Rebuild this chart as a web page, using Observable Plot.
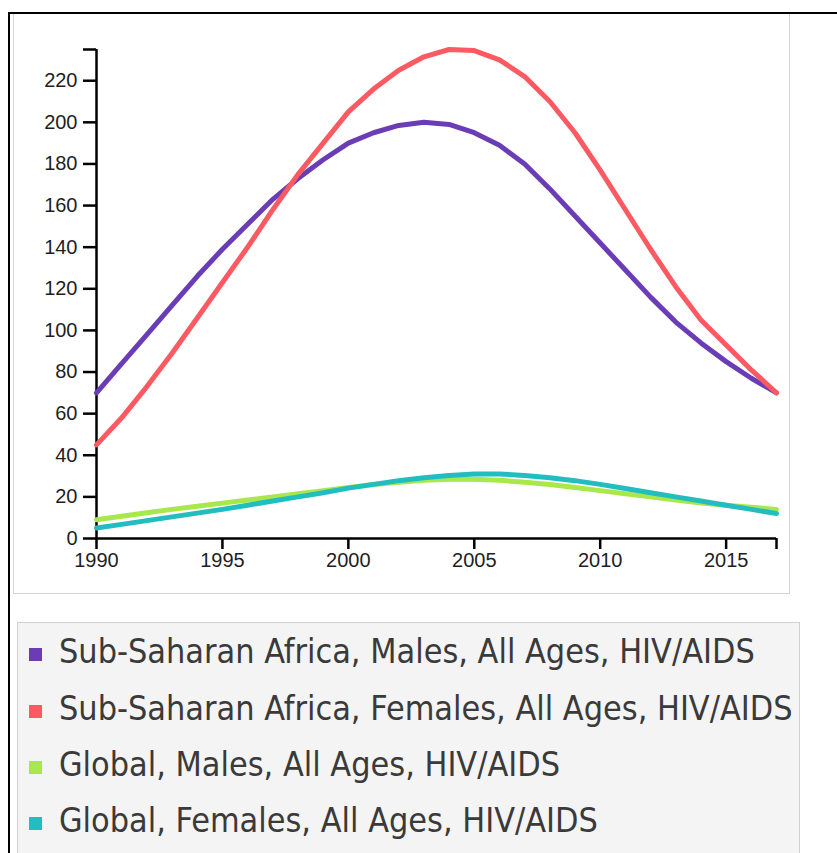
<!DOCTYPE html>
<html>
<head>
<meta charset="utf-8">
<script src="https://cdn.jsdelivr.net/npm/d3@7"></script>
<script src="https://cdn.jsdelivr.net/npm/@observablehq/plot@0.6"></script>
<style>
  html, body { margin: 0; padding: 0; background: #fff; overflow: hidden; }
  #frame { position: absolute; left: 8px; top: 12px; width: 900px; height: 900px; border: 2px solid #000; box-sizing: border-box; }
  #panel { position: absolute; left: 13px; top: 14px; width: 777px; height: 580px; border: 1px solid #d3d3d3; border-top: none; box-sizing: border-box; background: #fff; }
  #chart { position: absolute; left: 13px; top: 14px; }
  #legend { position: absolute; left: 17px; top: 622px; width: 783px; height: 300px; border: 1px solid #cfcfcf; background: #f4f4f4; box-sizing: border-box; }
  .sw { position: absolute; left: 11px; width: 13px; height: 13px; }
  .lab { position: absolute; left: 41px; white-space: nowrap; color: #3a3a3a; font-family: "DejaVu Sans Condensed", "DejaVu Sans", sans-serif; }
  #chart svg g[aria-label="x-axis tick"] path, #chart svg g[aria-label="y-axis tick"] path { stroke-width: 2.5px; }
  #chart svg text { font-size: 20px !important; }
</style>
</head>
<body>
<div id="frame"></div>
<div id="panel"></div>
<div id="chart"></div>
<div id="legend"></div>
<script>
const years = d3.range(1990, 2018);
const seriesNames = [
  "Sub-Saharan Africa, Males, All Ages, HIV/AIDS",
  "Sub-Saharan Africa, Females, All Ages, HIV/AIDS",
  "Global, Males, All Ages, HIV/AIDS",
  "Global, Females, All Ages, HIV/AIDS"
];
const seriesColors = ["#6a3db6", "#fb5a62", "#a8e84c", "#22bebf"];
const ssaMales = [70, 84, 98, 112, 126, 139, 151, 163, 173, 182, 190, 195, 198.5, 200, 199, 195, 189, 180, 168, 155, 142, 129, 116, 104, 94, 85, 77, 70];
const ssaFemales = [45, 58, 73, 89, 106, 123, 140, 158, 175, 190, 205, 216, 225, 231.5, 235, 234.5, 230, 222, 210, 195, 177, 158, 139, 121, 105, 93, 81, 70];
const globalMales = [9, 10.7, 12.4, 14, 15.5, 17, 18.5, 20, 21.5, 23, 24.5, 26, 27, 28, 28.5, 28.5, 28, 27, 26, 24.5, 23, 21.5, 20, 18.5, 17, 16, 15, 14];
const globalFemales = [5, 6.8, 8.6, 10.4, 12.2, 14, 16, 18, 20, 22, 24.2, 26, 27.8, 29.2, 30.3, 31, 31, 30.3, 29.2, 27.8, 26, 24, 22, 20, 18, 16, 14, 12];
const xTicks = [1990, 1995, 2000, 2005, 2010, 2015];
const yTicks = [0, 20, 40, 60, 80, 100, 120, 140, 160, 180, 200, 220];
const xMax = 2017, yMax = 235;

const allValues = [ssaMales, ssaFemales, globalMales, globalFemales];
const data = [];
allValues.forEach((vals, i) => vals.forEach((v, j) => data.push({year: years[j], value: v, series: seriesNames[i]})));

const chart = Plot.plot({
  width: 777,
  height: 580,
  marginLeft: 83,
  marginRight: 14,
  marginTop: 35,
  marginBottom: 56,
  style: {fontFamily: "'Liberation Sans', Arial, sans-serif", fontSize: "20px", color: "#000", background: "transparent"},
  x: {domain: [1990, xMax]},
  y: {domain: [0, yMax]},
  color: {domain: seriesNames, range: seriesColors},
  marks: [
    Plot.axisX({ticks: xTicks.concat([xMax]), tickFormat: d => d === xMax ? "" : String(d), tickSize: 11, tickPadding: 3, label: null, fontSize: 20, fill: "#1e1e1e"}),
    Plot.axisY({ticks: yTicks.concat([yMax]), tickFormat: d => d === yMax ? "" : String(d), tickSize: 13, tickPadding: 6, label: null, fontSize: 20, fill: "#1e1e1e"}),
    Plot.ruleX([1990], {strokeWidth: 2.5, stroke: "#000"}),
    Plot.ruleY([0], {strokeWidth: 2.5, stroke: "#000"}),
    Plot.line(data, {x: "year", y: "value", z: "series", stroke: "series", strokeWidth: 5, curve: "linear"})
  ]
});
document.getElementById("chart").appendChild(chart);

// legend
const legend = document.getElementById("legend");
const canvas = document.createElement("canvas");
const ctx = canvas.getContext("2d");
ctx.font = "30px 'DejaVu Sans Condensed'";
const w = ctx.measureText(seriesNames[1]).width;
const fontSize = 30 * 734 / w;
const rowCenters = [31, 88, 144, 200];
seriesNames.forEach((name, i) => {
  const sw = document.createElement("div");
  sw.className = "sw";
  sw.style.background = seriesColors[i];
  sw.style.top = (rowCenters[i] - 6.5) + "px";
  legend.appendChild(sw);
  const lab = document.createElement("div");
  lab.className = "lab";
  lab.textContent = name;
  lab.style.fontSize = fontSize + "px";
  lab.style.lineHeight = "1";
  lab.style.top = (rowCenters[i] - fontSize * 0.55) + "px";
  legend.appendChild(lab);
});
</script>
</body>
</html>
